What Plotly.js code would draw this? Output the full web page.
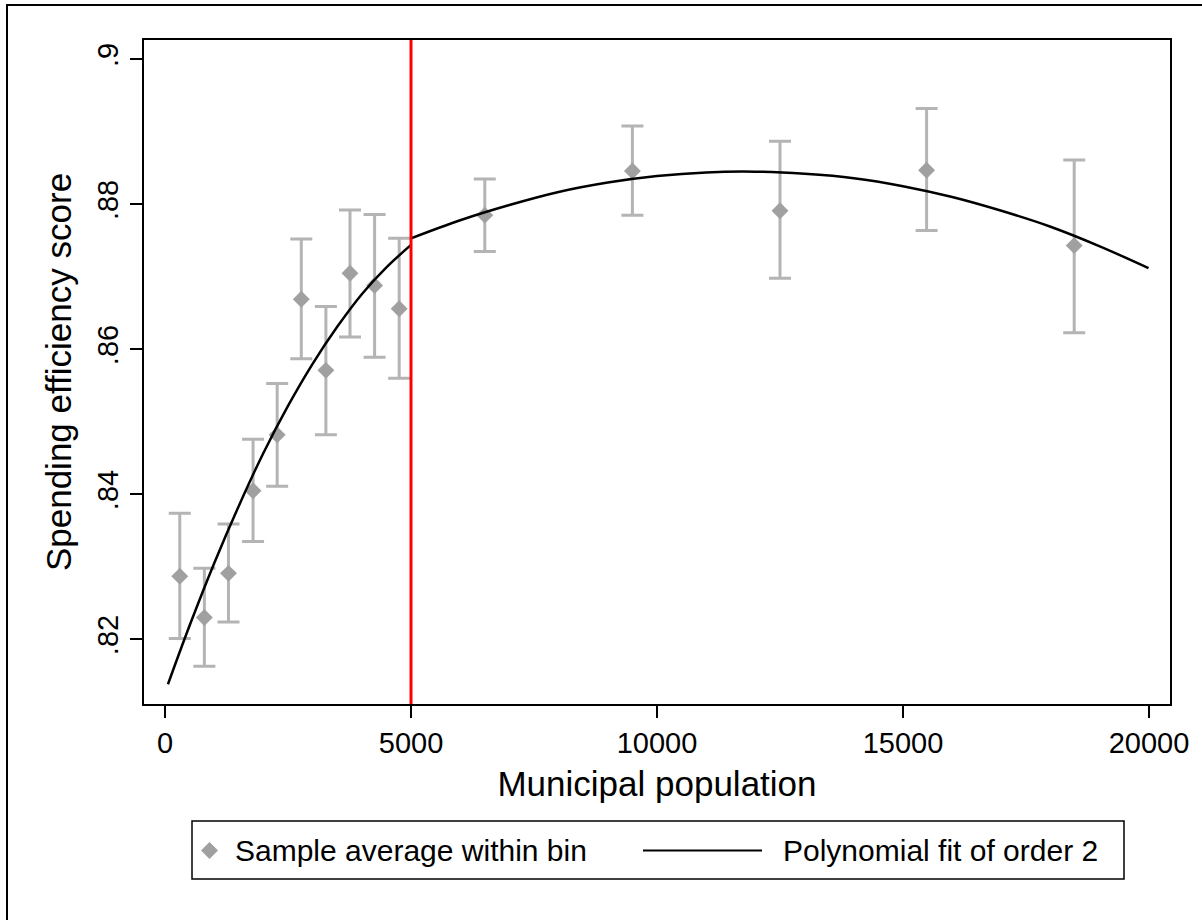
<!DOCTYPE html>
<html>
<head>
<meta charset="utf-8">
<script src="https://cdn.plot.ly/plotly-3.0.1.min.js"></script>
<style>
  html, body { margin: 0; padding: 0; background: #ffffff; }
  #chart { width: 1202px; height: 920px; }
</style>
</head>
<body>
<div id="chart"></div>
<script>
// ---- data ----
const binX    = [300, 800, 1290, 1790, 2280, 2770, 3270, 3760, 4260, 4760, 6500, 9500, 12500, 15480, 18480];
const binMean = [0.8287, 0.8230, 0.8291, 0.8405, 0.8482, 0.8669, 0.8571, 0.8705, 0.8688, 0.8656, 0.8785, 0.8846, 0.8791, 0.8847, 0.8743];
const ciHigh  = [0.8374, 0.8298, 0.8359, 0.8476, 0.8553, 0.8752, 0.8659, 0.8792, 0.8786, 0.8753, 0.8835, 0.8908, 0.8887, 0.8932, 0.8861];
const ciLow   = [0.8201, 0.8163, 0.8224, 0.8335, 0.8411, 0.8587, 0.8482, 0.8617, 0.8589, 0.8560, 0.8735, 0.8785, 0.8698, 0.8764, 0.8623];

const fitLeftX  = [60, 500, 1000, 1500, 2000, 2500, 3000, 3500, 4000, 4500, 5000];
const fitLeftY  = [0.8138, 0.8219, 0.8305, 0.8384, 0.8457, 0.8522, 0.8580, 0.8631, 0.8676, 0.8713, 0.8744];
const fitRightX = [5000, 6000, 7000, 8000, 9000, 10000, 11000, 12000, 13000, 14000, 15000, 16000, 17000, 18000, 19000, 19990];
const fitRightY = [0.8753, 0.8778, 0.8799, 0.8817, 0.8830, 0.8839, 0.8844, 0.8845, 0.8842, 0.8836, 0.8825, 0.8810, 0.8791, 0.8769, 0.8742, 0.8712];

const cutoff = 5000;

const xTickVals = [0, 5000, 10000, 15000, 20000];
const xTickText = ['0', '5000', '10000', '15000', '20000'];
const yTickVals = [0.82, 0.84, 0.86, 0.88, 0.90];
const yTickText = ['.82', '.84', '.86', '.88', '.9'];

const xTitle = 'Municipal population';
const yTitle = 'Spending efficiency score';
const legendScatter = 'Sample average within bin';
const legendLine = 'Polynomial fit of order 2';

// ---- layout geometry ----
const W = 1202, H = 920;
const M = { l: 144, r: 32, t: 40, b: 216 };
const plotW = W - M.l - M.r, plotH = H - M.t - M.b;
const px = v => (v - M.l) / plotW;        // pixel x -> paper x
const py = v => (H - M.b - v) / plotH;    // pixel y -> paper y

const FONT = 'Liberation Sans, Arial, Helvetica, sans-serif';

const traces = [
  {
    type: 'scatter', mode: 'markers', name: legendScatter,
    x: binX, y: binMean,
    marker: { symbol: 'diamond', size: 13, color: '#a0a0a0', line: { width: 0 } },
    error_y: {
      type: 'data', symmetric: false,
      array: ciHigh.map((v, i) => v - binMean[i]),
      arrayminus: ciLow.map((v, i) => binMean[i] - v),
      color: '#b4b4b4', thickness: 3, width: 11
    },
    hoverinfo: 'x+y'
  },
  {
    type: 'scatter', mode: 'lines', name: legendLine,
    x: fitLeftX, y: fitLeftY,
    line: { color: '#000000', width: 2.5, shape: 'spline', smoothing: 1 }
  },
  {
    type: 'scatter', mode: 'lines', name: legendLine, showlegend: false,
    x: fitRightX, y: fitRightY,
    line: { color: '#000000', width: 2.5, shape: 'spline', smoothing: 1 }
  }
];

// custom legend box (Stata style)
const lgTop = 821, lgBot = 879, lgMid = 850.5;
const dX = 209.5, dR = 8.5;
const shapes = [
  // cutoff line
  { type: 'line', xref: 'x', yref: 'paper', x0: cutoff, x1: cutoff, y0: 0, y1: 1,
    line: { color: '#ff0000', width: 3 }, layer: 'above' },
  // outer graph border (right/bottom run off the picture)
  { type: 'rect', xref: 'paper', yref: 'paper', x0: px(7), x1: px(1260), y0: py(960), y1: py(5),
    line: { color: '#000000', width: 2 }, fillcolor: 'rgba(0,0,0,0)', layer: 'below' },
  // legend frame
  { type: 'rect', xref: 'paper', yref: 'paper', x0: px(192), x1: px(1124), y0: py(lgBot), y1: py(lgTop),
    line: { color: '#000000', width: 1.5 }, fillcolor: '#ffffff' },
  // legend diamond
  { type: 'path', xref: 'paper', yref: 'paper',
    path: `M${px(dX - dR)},${py(lgMid)} L${px(dX)},${py(lgMid - dR)} L${px(dX + dR)},${py(lgMid)} L${px(dX)},${py(lgMid + dR)} Z`,
    fillcolor: '#a0a0a0', line: { width: 0 } },
  // legend line
  { type: 'line', xref: 'paper', yref: 'paper', x0: px(643), x1: px(762), y0: py(lgMid), y1: py(lgMid),
    line: { color: '#000000', width: 2 } }
];

const annotations = [
  { xref: 'paper', yref: 'paper', x: px(233), y: py(lgMid), xanchor: 'left', yanchor: 'middle',
    text: legendScatter, showarrow: false, font: { family: FONT, size: 30, color: '#000000' } },
  { xref: 'paper', yref: 'paper', x: px(781), y: py(lgMid), xanchor: 'left', yanchor: 'middle',
    text: legendLine, showarrow: false, font: { family: FONT, size: 30, color: '#000000' } }
];

const layout = {
  width: W, height: H,
  margin: M,
  paper_bgcolor: '#ffffff', plot_bgcolor: '#ffffff',
  showlegend: false,
  font: { family: FONT, color: '#000000' },
  xaxis: {
    range: [-427, 20427], autorange: false,
    tickmode: 'array', tickvals: xTickVals, ticktext: xTickText,
    ticks: 'outside', ticklen: 12, tickwidth: 2, tickcolor: '#000000',
    tickfont: { family: FONT, size: 29, color: '#000000' },
    showline: true, linewidth: 2, linecolor: '#000000', mirror: true,
    showgrid: false, zeroline: false, automargin: false,
    title: { text: xTitle, font: { family: FONT, size: 35, color: '#000000' }, standoff: 14 }
  },
  yaxis: {
    range: [0.81108, 0.90266], autorange: false,
    tickmode: 'array', tickvals: yTickVals, ticktext: yTickText,
    tickangle: -90,
    ticks: 'outside', ticklen: 12, tickwidth: 2, tickcolor: '#000000',
    tickfont: { family: FONT, size: 29, color: '#000000' },
    showline: true, linewidth: 2, linecolor: '#000000', mirror: true,
    showgrid: false, zeroline: false, automargin: false,
    title: { text: yTitle, font: { family: FONT, size: 35, color: '#000000' }, standoff: 10 }
  },
  shapes: shapes,
  annotations: annotations
};

Plotly.newPlot('chart', traces, layout, { displayModeBar: false, staticPlot: true });
</script>
</body>
</html>
